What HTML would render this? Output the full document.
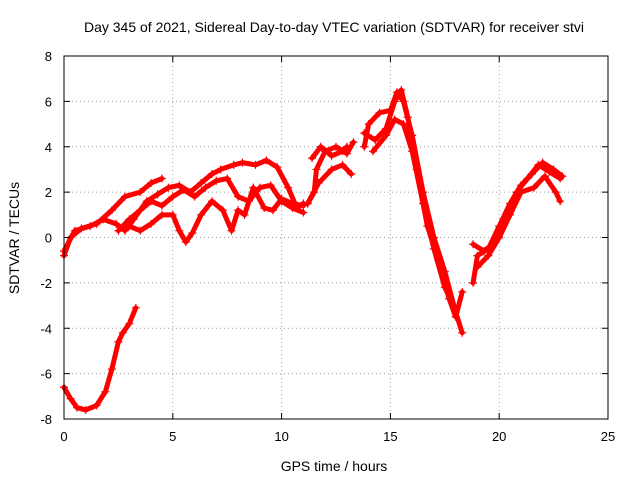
<!DOCTYPE html>
<html><head><meta charset="utf-8"><style>
body{margin:0;background:#fff;}
svg{display:block;font-family:"Liberation Sans",sans-serif;}
</style></head><body>
<svg id="chart" width="640" height="480">
<text x="334" y="32" font-size="14" text-anchor="middle">Day 345 of 2021, Sidereal Day-to-day VTEC variation (SDTVAR) for receiver stvi</text>
<text x="334" y="471" font-size="14" text-anchor="middle">GPS time / hours</text>
<text transform="translate(19,238) rotate(-90)" font-size="14" text-anchor="middle">SDTVAR / TECUs</text>
<g id="grid"></g><g id="data"></g><g id="axes"></g>
<rect x="64" y="56" width="544" height="363" fill="none" stroke="#000" stroke-width="1"/>
</svg>
<script>
const xTicks=[0,5,10,15,20,25];
const yTicks=[-8,-6,-4,-2,0,2,4,6,8];
const seriesArc=[[0,-6.6],[0.3,-7.1],[0.6,-7.5],[1,-7.6],[1.5,-7.4],[1.9,-6.8],[2.2,-5.8],[2.5,-4.6],[2.7,-4.2],[3,-3.8],[3.3,-3.1]];
const seriesA=[[0,-0.8],[0.3,0],[0.8,0.4],[1.5,0.6],[2.2,1.2],[2.8,1.8],[3.5,2.0],[4.0,2.4],[4.5,2.6]];
const seriesB=[[0,-0.6],[0.5,0.3],[1.2,0.5],[1.8,0.8],[2.4,0.6],[2.8,0.3],[3.2,0.8],[3.8,1.6],[4.3,1.9],[4.8,2.2],[5.3,2.3],[5.8,2.0],[6.3,2.4],[6.8,2.8],[7.2,3.0],[7.8,3.2],[8.2,3.3],[8.8,3.2],[9.3,3.4],[9.8,3.1],[10.3,2.2],[10.7,1.3],[11,1.5]];
const seriesC=[[2.5,0.3],[3,0.8],[3.5,1.2],[4,1.6],[4.5,1.4],[5,1.8],[5.5,2.1],[6,1.8],[6.5,2.2],[7,2.5],[7.5,2.6],[8,1.8],[8.5,1.6],[9,2.2],[9.5,2.3],[10,1.6],[10.5,1.3],[11,1.1]];
const seriesD=[[3,0.5],[3.5,0.3],[4,0.6],[4.5,1.0],[5,1.0],[5.3,0.3],[5.6,-0.2],[5.9,0.2],[6.3,1.0],[6.8,1.6],[7.3,1.2],[7.7,0.3],[8,1.2],[8.3,1.0],[8.7,2.2],[9.2,1.3],[9.6,1.2],[10,1.7],[10.5,1.5],[11,1.4]];
const seriesE1=[[11.2,1.5],[11.5,2.0],[11.6,3.0],[12,3.8],[12.5,4.0],[13,3.7],[13.3,4.2]];
const seriesE2=[[11.2,1.5],[11.7,2.4],[12.3,3.0],[12.8,3.2],[13.2,2.8]];
const seriesE3=[[11.4,3.5],[11.8,4.0],[12.3,3.6],[12.8,3.8],[13,4.0]];
const seriesF1=[[13.8,4.0],[14,5.0],[14.5,5.5],[15,5.6],[15.3,6.4],[15.6,6.0],[16,4.5],[16.5,2.0],[17,0],[17.5,-1.5],[18,-3.3],[18.3,-4.2]];
const seriesF2=[[13.8,4.6],[14.3,4.3],[14.8,4.8],[15.2,6.0],[15.5,6.5],[15.8,5.3],[16.2,3.0],[16.7,0.5],[17.2,-1.0],[17.7,-2.7],[18.0,-3.5],[18.3,-2.4]];
const seriesF3=[[14.2,3.8],[14.8,4.5],[15.2,5.2],[15.6,5.0],[16.0,3.8],[16.5,1.5],[17,-0.5],[17.5,-2.2],[18,-3.2]];
const seriesG1=[[18.8,-2.0],[19,-0.8],[19.5,-0.5],[20,0.5],[20.5,1.5],[21,2.3],[21.5,2.8],[22,3.3],[22.5,3.0],[22.9,2.7]];
const seriesG2=[[18.8,-0.3],[19.3,-0.6],[19.8,-0.2],[20.2,0.8],[20.8,2.0],[21.3,2.6],[21.8,3.2],[22.3,2.9],[22.8,2.6]];
const seriesG3=[[19,-1.3],[19.5,-0.8],[20,0],[20.5,1.0],[21,2.0],[21.6,2.2],[22.1,2.7],[22.6,2.0],[22.8,1.6]];
const allSeries=[seriesArc,seriesA,seriesB,seriesC,seriesD,seriesE1,seriesE2,seriesE3,seriesF1,seriesF2,seriesF3,seriesG1,seriesG2,seriesG3];

const X0=64,X1=608,Y0=419,Y1=56;
const xs=v=>X0+(v-0)/25*(X1-X0);
const ys=v=>Y0-(v+8)/16*(Y0-Y1);
const NS="http://www.w3.org/2000/svg";
const grid=document.getElementById('grid'),axes=document.getElementById('axes'),data=document.getElementById('data');
function mk(tag,attrs,parent){const e=document.createElementNS(NS,tag);for(const k in attrs)e.setAttribute(k,attrs[k]);parent.appendChild(e);return e;}
xTicks.forEach(t=>{
  const x=xs(t);
  if(t>0&&t<25){const g=mk('line',{x1:x,x2:x,y1:Y0,y2:Y1,stroke:'#a0a0a0','stroke-dasharray':'1,3'},grid);
  
  }
  mk('line',{x1:x,x2:x,y1:Y0,y2:Y0-6,stroke:'#000'},axes);
  mk('line',{x1:x,x2:x,y1:Y1,y2:Y1+6,stroke:'#000'},axes);
  const l=mk('text',{x:x,y:Y0+22,'font-size':13,'text-anchor':'middle'},axes);l.textContent=t;
  
  
});
yTicks.forEach(t=>{
  const y=ys(t);
  if(t>-8&&t<8){const g=mk('line',{x1:X0,x2:X1,y1:y,y2:y,stroke:'#a0a0a0','stroke-dasharray':'1,3'},grid);
  
  }
  mk('line',{x1:X0,x2:X0+6,y1:y,y2:y,stroke:'#000'},axes);
  mk('line',{x1:X1,x2:X1-6,y1:y,y2:y,stroke:'#000'},axes);
  const l=mk('text',{x:X0-12,y:y+5,'font-size':13,'text-anchor':'end'},axes);l.textContent=t;
  
  
});
allSeries.forEach(s=>{
  const p=mk('polyline',{points:s.map(d=>xs(d[0])+','+ys(d[1])).join(' '),fill:'none',stroke:'#ff0000','stroke-width':5,'stroke-linejoin':'round','stroke-linecap':'round'},data);
  
  
  s.forEach(d=>{
    const x=xs(d[0]),y=ys(d[1]);
    const m=mk('path',{d:`M${x-4},${y}H${x+4}M${x},${y-4}V${y+4}`,stroke:'#ff0000','stroke-width':1.2},data);
    
    
  });
});
</script>
</body></html>
